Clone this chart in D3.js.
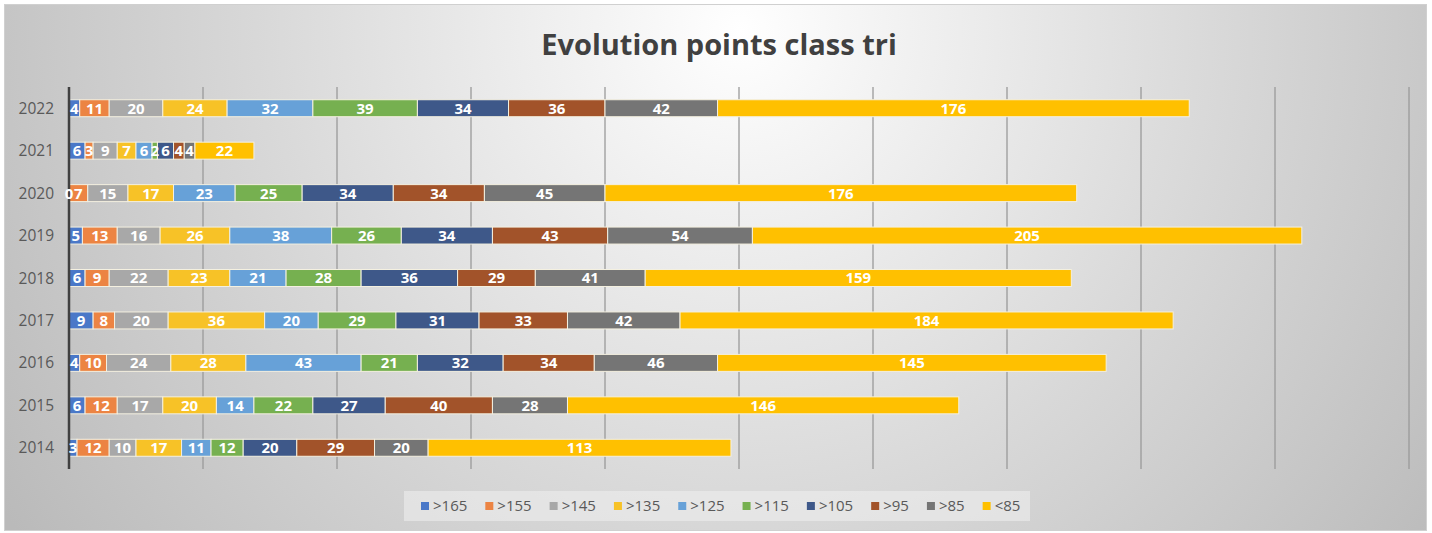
<!DOCTYPE html>
<html>
<head>
<meta charset="utf-8">
<script src="https://cdn.jsdelivr.net/npm/d3@7"></script>
<style>
  body { margin: 0; background: #fff; }
  svg { display: block; }
</style>
</head>
<body>
<svg id="chart"></svg>
<script>
// years, top to bottom
const years = ["2022", "2021", "2020", "2019", "2018", "2017", "2016", "2015", "2014"];
const classes = [">165", ">155", ">145", ">135", ">125", ">115", ">105", ">95", ">85", "<85"];
const colors = ["#4a78c8", "#ec8443", "#a8a8a8", "#f7c227", "#67a1d8", "#76b050", "#3e5889", "#a2532a", "#757575", "#ffc000"];

// values per class, same order as years
const v165 = [4, 6, 0, 5, 6, 9, 4, 6, 3];
const v155 = [11, 3, 7, 13, 9, 8, 10, 12, 12];
const v145 = [20, 9, 15, 16, 22, 20, 24, 17, 10];
const v135 = [24, 7, 17, 26, 23, 36, 28, 20, 17];
const v125 = [32, 6, 23, 38, 21, 20, 43, 14, 11];
const v115 = [39, 2, 25, 26, 28, 29, 21, 22, 12];
const v105 = [34, 6, 34, 34, 36, 31, 32, 27, 20];
const v95 = [36, 4, 34, 43, 29, 33, 34, 40, 29];
const v85 = [42, 4, 45, 54, 41, 42, 46, 28, 20];
const vLow = [176, 22, 176, 205, 159, 184, 145, 146, 113];
const xTicks = [0, 50, 100, 150, 200, 250, 300, 350, 400, 450, 500];

const series = [v165, v155, v145, v135, v125, v115, v105, v95, v85, vLow];

const width = 1432, height = 533;
const svg = d3.select('#chart').attr('width', width).attr('height', height);

// background
const defs = svg.append('defs');
const grad = defs.append('radialGradient')
  .attr('id', 'bg')
  .attr('gradientUnits', 'userSpaceOnUse')
  .attr('cx', 740).attr('cy', 30).attr('r', 880);
grad.append('stop').attr('offset', '0').attr('stop-color', '#ffffff');
grad.append('stop').attr('offset', '0.15').attr('stop-color', '#f4f4f4');
grad.append('stop').attr('offset', '0.55').attr('stop-color', '#d8d8d8');
grad.append('stop').attr('offset', '1').attr('stop-color', '#bababa');

svg.append('rect')
  .attr('x', 4.5).attr('y', 4.5)
  .attr('width', 1422).attr('height', 526)
  .attr('fill', 'url(#bg)')
  .attr('stroke', '#d0d0d0');

// title
svg.append('text')
  .attr('x', 719).attr('y', 55)
  .attr('text-anchor', 'middle')
  .attr('font-family', 'Open Sans, sans-serif')
  .attr('font-weight', 'bold')
  .attr('font-size', 29)
  .attr('fill', '#404040')
  .text('Evolution points class tri');

// scales
const x = d3.scaleLinear().domain([0, 500]).range([69, 1409]);
const y = d3.scaleBand().domain(years).range([87, 469]).paddingInner(0.6).paddingOuter(0.3);

// gridlines
svg.append('g')
  .selectAll('line')
  .data(xTicks.slice(1))
  .enter().append('line')
    .attr('x1', d => x(d)).attr('x2', d => x(d))
    .attr('y1', 87).attr('y2', 469)
    .attr('stroke', '#9a9a9a')
    .attr('stroke-width', 1.3);

// stacked data
const table = years.map((yr, i) => {
  const row = { year: yr };
  classes.forEach((c, j) => { row[c] = series[j][i]; });
  return row;
});
const stacked = d3.stack().keys(classes)(table);

const layers = svg.append('g')
  .selectAll('g')
  .data(stacked)
  .enter().append('g')
    .attr('fill', (d, i) => colors[i]);

layers.selectAll('rect')
  .data(d => d)
  .enter().append('rect')
    .attr('x', d => x(d[0]))
    .attr('y', d => y(d.data.year))
    .attr('width', d => x(d[1]) - x(d[0]))
    .attr('height', y.bandwidth())
    .attr('stroke', '#f4f0e0')
    .attr('stroke-width', 1);

// axis line
svg.append('line')
  .attr('x1', 69).attr('x2', 69)
  .attr('y1', 87).attr('y2', 469)
  .attr('stroke', '#404040')
  .attr('stroke-width', 2.5);

// value labels (after the axis so a 0 stays visible)
svg.append('g')
  .selectAll('g')
  .data(stacked)
  .enter().append('g')
  .selectAll('text')
  .data(d => d.map(p => ({ p: p, key: d.key })))
  .enter().append('text')
    .attr('x', d => (x(d.p[0]) + x(d.p[1])) / 2)
    .attr('y', d => y(d.p.data.year) + y.bandwidth() / 2)
    .attr('dy', '0.36em')
    .attr('text-anchor', 'middle')
    .attr('font-family', 'Open Sans, sans-serif')
    .attr('font-weight', 'bold')
    .attr('font-size', 15)
    .attr('fill', '#ffffff')
    .text(d => d.p.data[d.key]);

// year labels
svg.append('g')
  .selectAll('text')
  .data(years)
  .enter().append('text')
    .attr('x', 54)
    .attr('y', d => y(d) + y.bandwidth() / 2)
    .attr('dy', '0.36em')
    .attr('text-anchor', 'end')
    .attr('font-family', 'Open Sans, sans-serif')
    .attr('font-size', 15.5)
    .attr('fill', '#595959')
    .text(d => d);

// legend
const legend = svg.append('g');
legend.append('rect')
  .attr('x', 404).attr('y', 491)
  .attr('width', 626).attr('height', 30)
  .attr('fill', '#f0f0f0')
  .attr('opacity', 0.55);

let lx = 421;
classes.forEach((c, i) => {
  const item = legend.append('g').attr('transform', `translate(${lx},506)`);
  item.append('rect')
    .attr('x', 0).attr('y', -4)
    .attr('width', 8).attr('height', 8)
    .attr('fill', colors[i]);
  const t = item.append('text')
    .attr('x', 12).attr('dy', '0.36em')
    .attr('font-family', 'Open Sans, sans-serif')
    .attr('font-size', 15)
    .attr('fill', '#595959')
    .text(c);
  lx += 12 + t.node().getComputedTextLength() + 18;
});
</script>
</body>
</html>
